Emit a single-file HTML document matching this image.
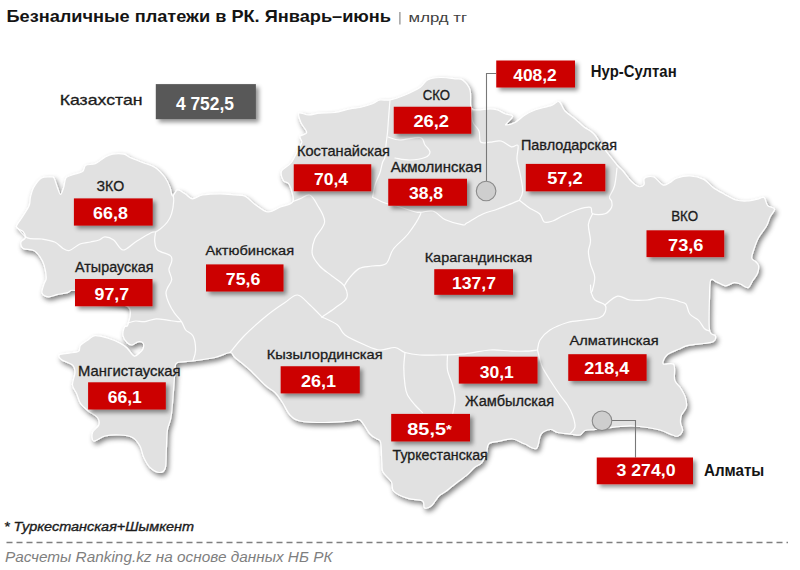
<!DOCTYPE html><html><head><meta charset="utf-8"><style>html,body{margin:0;padding:0;background:#fff;}svg{display:block;}text{font-family:"Liberation Sans",sans-serif;}</style></head><body>
<svg width="800" height="570" viewBox="0 0 800 570">
<defs><filter id="ms" x="-5%" y="-5%" width="110%" height="115%"><feGaussianBlur in="SourceAlpha" stdDeviation="2.6"/><feOffset dx="2" dy="3" result="b"/><feFlood flood-color="#000" flood-opacity="0.5"/><feComposite in2="b" operator="in"/><feMerge><feMergeNode/><feMergeNode in="SourceGraphic"/></feMerge></filter><filter id="bs" x="-20%" y="-30%" width="140%" height="170%"><feGaussianBlur in="SourceAlpha" stdDeviation="2.3"/><feOffset dx="2.5" dy="3.2" result="b"/><feFlood flood-color="#000" flood-opacity="0.42"/><feComposite in2="b" operator="in"/><feMerge><feMergeNode/><feMergeNode in="SourceGraphic"/></feMerge></filter><filter id="blur1"><feGaussianBlur stdDeviation="1"/></filter></defs>
<path d="M16.5,227.0 C16.1,224.9 18.9,222.5 21.0,219.0 C23.1,215.5 27.4,209.7 29.0,206.0 C30.6,202.3 29.7,200.1 30.5,197.0 C31.3,193.9 31.9,190.6 33.7,187.4 C35.6,184.2 38.7,179.7 41.6,178.0 C44.5,176.3 48.9,177.0 51.0,177.0 C53.1,177.0 52.9,176.3 54.0,178.0 C55.1,179.7 56.3,184.7 57.4,187.4 C58.5,190.2 59.5,194.5 60.5,194.5 C61.5,194.5 62.8,190.2 63.7,187.4 C64.6,184.7 64.5,180.1 66.0,178.0 C67.5,175.9 70.2,175.8 73.0,174.7 C75.8,173.6 80.5,173.2 82.6,171.6 C84.7,170.0 83.7,166.6 85.8,165.3 C87.9,164.0 92.1,165.0 95.3,163.7 C98.5,162.4 101.8,159.0 104.7,157.4 C107.6,155.8 109.4,154.7 112.6,154.2 C115.8,153.7 120.8,153.6 123.7,154.2 C126.6,154.8 126.9,156.1 130.0,157.5 C133.1,158.9 138.3,160.8 142.5,162.5 C146.7,164.2 151.2,165.0 155.0,167.5 C158.8,170.0 162.5,174.2 165.0,177.5 C167.5,180.8 168.8,184.4 170.0,187.5 C171.2,190.6 171.2,195.6 172.5,196.0 C173.8,196.4 175.4,190.4 177.5,190.0 C179.6,189.6 182.5,192.3 185.0,193.8 C187.5,195.2 189.6,198.5 192.5,198.8 C195.4,199.0 197.9,195.8 202.5,195.0 C207.1,194.2 214.6,193.8 220.0,193.8 C225.4,193.8 230.8,194.6 235.0,195.0 C239.2,195.4 241.6,194.6 245.0,196.2 C248.4,197.9 251.6,202.1 255.4,204.7 C259.2,207.3 263.8,211.6 268.0,212.0 C272.2,212.4 276.3,208.8 280.5,207.0 C284.7,205.2 291.5,205.2 293.0,201.5 C294.5,197.8 290.9,188.1 289.3,184.6 C287.7,181.1 284.8,183.0 283.5,180.7 C282.2,178.4 280.4,173.9 281.6,171.0 C282.9,168.1 288.1,166.8 291.0,163.0 C293.9,159.2 297.2,151.5 299.0,148.0 C300.8,144.5 301.7,143.9 301.9,142.0 C302.1,140.1 299.2,137.9 300.0,136.3 C300.8,134.7 306.5,134.8 306.7,132.5 C306.9,130.2 302.3,126.0 301.0,122.8 C299.7,119.6 297.7,114.5 299.0,113.2 C300.3,111.9 305.1,115.0 308.6,115.0 C312.1,115.0 315.6,113.6 320.0,113.2 C324.4,112.8 330.0,113.2 335.0,112.5 C340.0,111.8 345.8,109.6 350.0,108.8 C354.2,107.9 356.2,108.3 360.0,107.5 C363.8,106.7 369.2,105.0 372.5,103.8 C375.8,102.5 377.1,100.6 380.0,100.0 C382.9,99.4 385.8,100.8 390.0,100.0 C394.2,99.2 400.0,97.1 405.0,95.0 C410.0,92.9 416.2,90.0 420.0,87.5 C423.8,85.0 424.2,81.7 427.5,80.0 C430.8,78.3 435.4,77.7 440.0,77.5 C444.6,77.3 451.2,78.3 455.0,78.8 C458.8,79.2 460.0,78.1 462.5,80.0 C465.0,81.9 468.6,85.4 470.0,90.0 C471.4,94.6 469.8,104.2 471.0,107.5 C472.2,110.8 474.3,109.8 477.5,110.0 C480.7,110.2 486.7,108.8 490.0,108.8 C493.3,108.8 495.0,109.2 497.5,110.0 C500.0,110.8 502.5,112.7 505.0,113.8 C507.5,114.8 512.1,114.8 512.5,116.2 C512.9,117.7 508.6,121.0 507.5,122.5 C506.4,124.0 504.8,125.0 506.0,125.0 C507.2,125.0 511.8,124.2 515.0,122.5 C518.2,120.8 521.7,117.1 525.0,115.0 C528.3,112.9 530.6,111.6 535.0,110.0 C539.4,108.4 547.6,106.8 551.6,105.4 C555.6,104.0 556.8,100.7 559.0,101.6 C561.2,102.5 562.3,108.1 565.0,111.0 C567.7,113.9 571.8,116.3 575.0,119.0 C578.2,121.7 580.8,124.5 584.0,127.0 C587.2,129.5 591.0,130.8 594.0,134.0 C597.0,137.2 599.4,142.4 602.0,146.0 C604.6,149.6 607.0,152.4 609.5,155.6 C612.0,158.8 614.8,162.4 617.0,165.0 C619.2,167.6 620.7,168.3 623.0,171.0 C625.3,173.7 628.4,178.4 631.0,181.0 C633.6,183.6 636.3,185.9 638.5,186.5 C640.7,187.1 643.0,186.0 644.0,184.6 C645.0,183.2 643.0,179.5 644.6,178.2 C646.2,176.9 650.7,175.9 653.7,177.0 C656.7,178.1 660.1,184.0 662.8,185.0 C665.4,186.0 667.3,183.9 669.6,182.8 C671.9,181.7 673.1,179.3 676.5,178.2 C679.9,177.1 685.5,175.8 690.0,176.0 C694.5,176.2 700.0,177.5 703.8,179.4 C707.6,181.3 709.6,184.9 713.0,187.4 C716.4,189.9 720.6,192.1 724.4,194.2 C728.2,196.3 732.0,198.9 735.8,200.0 C739.6,201.1 743.2,201.2 747.0,201.0 C750.8,200.8 755.8,199.4 758.6,198.8 C761.4,198.2 762.5,196.5 764.0,197.6 C765.5,198.7 766.0,203.7 767.7,205.6 C769.5,207.5 774.1,207.1 774.5,209.0 C774.9,210.9 771.3,214.2 770.0,217.0 C768.7,219.8 768.4,222.6 766.5,226.0 C764.6,229.4 760.7,233.7 758.6,237.5 C756.5,241.3 755.1,245.6 754.0,249.0 C752.9,252.4 751.4,255.8 751.7,258.0 C752.0,260.2 754.9,260.7 756.0,262.0 C757.1,263.3 758.4,264.1 758.6,266.0 C758.8,267.9 758.4,271.0 757.4,273.5 C756.4,276.0 754.0,278.6 752.5,281.0 C751.0,283.4 750.2,287.1 748.2,287.6 C746.2,288.1 742.6,284.8 740.2,284.0 C737.8,283.2 736.5,282.4 734.0,282.7 C731.5,283.0 728.4,285.9 725.5,285.8 C722.6,285.7 719.4,283.0 716.9,282.1 C714.4,281.2 711.9,277.8 710.7,280.3 C709.5,282.8 709.7,288.7 709.5,297.0 C709.3,305.3 708.5,323.5 709.5,330.0 C710.5,336.5 714.6,333.9 715.3,335.8 C715.9,337.7 715.3,340.3 713.4,341.6 C711.5,342.9 707.9,342.9 703.7,343.5 C699.5,344.1 692.5,344.4 688.3,345.4 C684.1,346.4 682.1,347.7 678.6,349.3 C675.1,350.9 669.6,352.6 667.0,355.0 C664.4,357.4 662.1,362.2 663.2,363.8 C664.3,365.4 671.9,362.0 673.8,364.7 C675.7,367.4 673.6,376.3 674.7,380.2 C675.8,384.1 678.7,385.1 680.5,388.0 C682.3,390.9 684.4,394.4 685.4,397.6 C686.4,400.8 686.9,404.3 686.3,407.2 C685.6,410.1 682.5,412.4 681.5,415.0 C680.5,417.6 680.3,420.1 680.5,422.7 C680.7,425.3 682.9,428.2 682.5,430.4 C682.1,432.6 679.7,435.2 678.0,436.0 C676.3,436.8 675.5,436.0 672.5,435.0 C669.5,434.0 664.2,431.2 660.0,430.0 C655.8,428.8 652.1,428.2 647.5,427.5 C642.9,426.8 637.1,426.2 632.5,426.0 C627.9,425.8 624.2,426.2 620.0,426.5 C615.8,426.8 611.7,427.5 607.5,428.0 C603.3,428.5 598.8,429.1 595.0,429.5 C591.2,429.9 587.5,429.6 585.0,430.5 C582.5,431.4 582.5,434.4 580.0,435.0 C577.5,435.6 573.8,434.4 570.0,434.0 C566.2,433.6 560.8,433.2 557.5,432.5 C554.2,431.8 553.2,429.2 550.5,429.5 C547.8,429.8 543.4,431.1 541.0,434.3 C538.6,437.5 539.1,446.9 536.3,448.5 C533.5,450.1 528.4,445.4 524.4,443.8 C520.4,442.2 516.9,439.4 512.5,439.0 C508.1,438.6 502.2,440.6 498.3,441.4 C494.4,442.2 490.8,441.8 488.8,443.8 C486.8,445.8 487.6,450.1 486.4,453.3 C485.2,456.5 483.6,460.4 481.6,462.8 C479.6,465.2 476.9,465.5 474.5,467.5 C472.1,469.5 470.2,472.2 467.4,474.6 C464.6,477.0 461.5,479.0 457.9,481.8 C454.3,484.6 449.2,488.9 446.0,491.3 C442.8,493.7 441.3,493.6 438.9,496.0 C436.5,498.4 434.2,503.5 431.8,505.5 C429.4,507.5 426.2,508.7 424.6,507.9 C423.0,507.1 425.1,502.4 422.3,500.8 C419.5,499.2 412.8,500.0 408.0,498.4 C403.2,496.8 396.6,494.1 393.8,491.3 C391.0,488.5 393.2,485.0 391.4,481.8 C389.6,478.6 384.6,475.2 383.0,472.0 C381.4,468.8 382.3,467.7 381.9,462.8 C381.5,457.9 381.5,446.6 380.7,442.6 C379.9,438.6 378.8,440.4 377.0,439.0 C375.2,437.6 372.8,437.2 370.0,434.0 C367.2,430.8 363.3,422.2 360.0,420.0 C356.7,417.8 355.8,420.6 350.0,421.0 C344.2,421.4 333.3,422.5 325.0,422.5 C316.7,422.5 305.8,422.2 300.0,421.0 C294.2,419.8 292.9,418.1 290.0,415.0 C287.1,411.9 285.0,406.2 282.5,402.5 C280.0,398.8 277.9,395.4 275.0,392.5 C272.1,389.6 269.2,388.8 265.0,385.0 C260.8,381.2 255.0,374.6 250.0,370.0 C245.0,365.4 238.3,360.4 235.0,357.5 C231.7,354.6 233.3,352.5 230.0,352.5 C226.7,352.5 221.2,356.1 215.0,357.5 C208.8,358.9 198.8,360.2 192.5,361.0 C186.2,361.8 180.4,361.4 177.5,362.5 C174.6,363.6 175.5,365.6 175.0,367.5 C174.5,369.4 175.3,366.1 174.7,374.0 C174.1,381.9 172.5,405.7 171.3,415.0 C170.1,424.3 168.2,424.2 167.4,430.0 C166.6,435.8 166.7,443.7 166.3,450.0 C166.0,456.3 166.4,464.2 165.3,468.0 C164.2,471.8 162.1,472.6 159.5,472.5 C156.9,472.4 152.6,470.0 150.0,467.5 C147.4,465.0 145.5,461.1 143.8,457.5 C142.1,453.9 141.9,449.3 140.0,446.0 C138.1,442.7 135.8,439.3 132.5,437.5 C129.2,435.7 124.6,435.2 120.0,435.0 C115.4,434.8 109.4,435.0 105.0,436.0 C100.6,437.0 95.9,441.6 93.8,441.0 C91.7,440.4 91.7,435.2 92.5,432.5 C93.3,429.8 98.0,427.5 98.8,425.0 C99.6,422.5 99.2,419.8 97.5,417.5 C95.8,415.2 91.1,413.4 88.3,411.0 C85.5,408.6 82.4,406.3 80.5,403.4 C78.6,400.5 78.0,396.8 76.7,393.7 C75.4,390.6 72.8,388.5 72.5,385.0 C72.2,381.5 75.0,375.8 75.0,372.5 C75.0,369.2 74.7,367.1 72.5,365.0 C70.3,362.9 64.2,361.7 62.0,360.0 C59.8,358.3 58.1,356.1 59.3,355.0 C60.5,353.9 65.8,353.8 69.0,353.2 C72.2,352.6 76.7,352.5 78.6,351.2 C80.5,349.9 78.9,347.3 80.5,345.4 C82.1,343.5 85.9,341.3 88.3,339.7 C90.7,338.1 91.8,335.9 95.0,335.6 C98.2,335.3 103.2,336.8 107.3,338.0 C111.4,339.2 116.3,341.3 119.6,343.0 C122.9,344.7 124.6,345.8 127.0,348.0 C129.4,350.2 132.0,355.1 134.0,356.0 C136.0,356.9 137.5,354.7 139.0,353.5 C140.5,352.3 142.3,350.8 143.0,349.0 C143.7,347.2 143.8,344.2 143.0,343.0 C142.2,341.8 139.8,341.5 138.0,341.8 C136.2,342.1 133.8,344.9 132.0,345.0 C130.2,345.1 128.5,344.1 127.0,342.5 C125.5,340.9 123.4,338.2 123.0,335.6 C122.6,333.0 123.7,328.8 124.5,327.0 C125.3,325.2 127.3,327.9 128.0,324.6 C128.7,321.3 133.2,311.1 128.5,307.0 C123.8,302.9 109.0,302.8 100.0,300.0 C91.0,297.2 80.1,291.7 74.7,290.5 C69.3,289.3 70.4,291.9 67.4,292.6 C64.4,293.3 60.0,294.0 56.8,294.7 C53.6,295.4 50.9,297.1 48.4,296.8 C45.9,296.5 42.7,295.1 42.0,293.0 C41.3,290.9 43.3,286.5 44.0,284.0 C44.7,281.5 46.3,281.0 46.3,277.9 C46.3,274.8 45.2,268.8 44.2,265.3 C43.2,261.8 41.8,259.3 40.0,256.8 C38.2,254.3 36.5,251.9 33.7,250.5 C30.9,249.1 25.3,249.8 23.2,248.4 C21.1,247.0 20.6,243.8 21.0,242.0 C21.4,240.2 24.9,239.6 25.3,237.9 C25.7,236.2 24.7,233.4 23.2,231.6 C21.7,229.8 16.9,229.1 16.5,227.0Z" fill="#e1e1e1" stroke="#ffffff" stroke-width="1.2" stroke-linejoin="round" filter="url(#ms)"/>
<g fill="none" stroke="#ffffff" stroke-width="1.2" stroke-linejoin="round" stroke-linecap="round" opacity="0.95">
<path d="M16.8,227.4 C18.6,229.2 23.2,236.0 27.4,237.9 C31.6,239.8 37.5,238.3 42.0,239.0 C46.5,239.7 51.2,240.4 54.7,242.0 C58.2,243.6 60.5,247.0 63.0,248.4 C65.5,249.8 66.7,251.2 69.5,250.5 C72.3,249.8 76.5,245.4 80.0,244.0 C83.5,242.6 87.3,242.7 90.5,242.0 C93.7,241.3 96.6,240.9 99.0,240.0 C101.4,239.1 102.5,236.8 105.0,236.8 C107.5,236.8 110.7,237.8 113.7,240.0 C116.7,242.2 119.4,249.7 123.0,250.0 C126.6,250.3 130.9,244.8 135.5,242.0 C140.1,239.2 147.2,234.7 150.6,233.0 C153.9,231.3 154.8,232.2 155.6,232.0"/>
<path d="M173.0,194.0 C173.1,195.2 173.9,197.7 173.7,201.0 C173.5,204.3 172.6,210.2 171.6,213.7 C170.6,217.2 169.2,219.6 167.4,222.0 C165.6,224.4 163.0,226.7 161.0,228.4 C159.0,230.1 156.5,231.4 155.6,232.0"/>
<path d="M155.6,232.0 C155.4,233.5 154.4,238.0 154.7,241.0 C155.0,244.0 155.0,247.6 157.6,250.0 C160.2,252.4 168.0,253.7 170.3,255.6 C172.7,257.5 171.9,258.9 171.7,261.2 C171.5,263.5 168.9,266.6 168.9,269.6 C168.9,272.7 171.9,276.4 171.7,279.5 C171.5,282.6 168.4,285.7 167.5,288.0 C166.6,290.3 165.8,290.9 166.0,293.5 C166.2,296.1 167.5,300.0 168.9,303.3 C170.3,306.6 172.4,310.1 174.5,313.2 C176.6,316.2 179.6,318.8 181.5,321.6 C183.4,324.4 183.8,327.6 185.7,330.0 C187.6,332.4 191.3,332.7 193.0,336.0 C194.7,339.3 195.6,345.9 195.6,350.0 C195.6,354.1 193.4,358.9 193.0,360.7"/>
<path d="M128.0,323.0 C129.2,322.7 132.7,321.2 135.5,321.0 C138.3,320.8 141.6,322.0 145.0,321.6 C148.4,321.2 152.4,319.0 156.2,318.8 C159.9,318.6 164.0,319.7 167.5,320.2 C171.0,320.7 175.0,321.4 177.3,321.6 C179.6,321.8 180.8,321.6 181.5,321.6"/>
<path d="M293.0,201.5 C294.3,201.0 297.8,199.6 300.6,198.5 C303.4,197.4 307.0,194.0 309.8,195.0 C312.6,196.0 314.7,200.2 317.2,204.7 C319.7,209.2 325.0,216.3 324.6,222.0 C324.2,227.7 316.8,233.7 314.7,239.0 C312.6,244.3 311.5,249.5 312.3,254.0 C313.1,258.5 316.4,262.3 319.7,266.0 C323.0,269.7 327.9,272.7 332.0,276.0 C336.1,279.3 341.8,282.1 344.2,285.8 C346.6,289.5 348.2,294.3 346.7,298.0 C345.2,301.7 339.1,304.8 335.0,308.0 C330.9,311.2 324.2,315.5 322.0,317.0"/>
<path d="M230.0,352.5 C232.5,349.6 238.8,341.2 245.0,335.0 C251.2,328.8 260.8,320.4 267.5,315.0 C274.2,309.6 280.0,305.8 285.0,302.5 C290.0,299.2 293.3,294.6 297.5,295.0 C301.7,295.4 305.9,301.3 310.0,305.0 C314.1,308.7 320.0,315.0 322.0,317.0"/>
<path d="M322.0,317.0 C324.6,318.3 333.7,322.0 337.5,325.0 C341.3,328.0 340.4,331.7 345.0,335.0 C349.6,338.3 359.2,342.5 365.0,345.0 C370.8,347.5 375.0,349.6 380.0,350.0 C385.0,350.4 390.8,347.1 395.0,347.5 C399.2,347.9 400.8,351.2 405.0,352.5 C409.2,353.8 414.2,354.6 420.0,355.0 C425.8,355.4 432.5,355.2 440.0,355.0 C447.5,354.8 456.7,354.6 465.0,353.8 C473.3,352.9 482.5,350.5 490.0,350.0 C497.5,349.5 504.2,350.8 510.0,351.0 C515.8,351.2 520.4,351.4 525.0,351.2 C529.6,351.1 535.4,350.2 537.5,350.0"/>
<path d="M405.0,352.5 C404.8,355.0 403.8,362.1 403.8,367.5 C403.8,372.9 404.4,380.4 405.0,385.0 C405.6,389.6 405.8,391.7 407.5,395.0 C409.2,398.3 412.5,402.1 415.0,405.0 C417.5,407.9 421.2,411.2 422.5,412.5"/>
<path d="M447.5,355.0 C447.5,357.5 446.7,365.0 447.5,370.0 C448.3,375.0 451.2,380.0 452.5,385.0 C453.8,390.0 455.0,395.0 455.0,400.0 C455.0,405.0 452.9,412.5 452.5,415.0"/>
<path d="M537.5,350.0 C537.9,351.7 539.2,357.1 540.0,360.0 C540.8,362.9 540.8,364.2 542.5,367.5 C544.2,370.8 547.1,375.4 550.0,380.0 C552.9,384.6 557.1,390.8 560.0,395.0 C562.9,399.2 565.4,401.7 567.5,405.0 C569.6,408.3 571.2,411.3 572.5,415.0 C573.8,418.7 575.4,423.8 575.0,427.0 C574.6,430.2 570.8,432.8 570.0,434.0"/>
<path d="M537.5,350.0 C537.9,348.3 537.9,343.3 540.0,340.0 C542.1,336.7 545.4,332.9 550.0,330.0 C554.6,327.1 561.7,324.2 567.5,322.5 C573.3,320.8 579.6,320.8 585.0,320.0 C590.4,319.2 596.7,318.8 600.0,317.5 C603.3,316.2 604.2,314.6 605.0,312.5 C605.8,310.4 606.7,307.1 605.0,305.0 C603.3,302.9 597.3,302.1 595.0,300.0 C592.7,297.9 592.0,295.0 591.2,292.5 C590.5,290.0 590.6,286.2 590.5,285.0"/>
<path d="M592.6,213.7 C591.9,215.4 588.8,219.6 588.4,224.2 C588.0,228.8 590.5,236.4 590.5,241.0 C590.5,245.6 588.4,247.7 588.4,251.6 C588.4,255.5 589.5,260.0 590.5,264.2 C591.5,268.4 594.4,272.6 594.7,276.8 C595.1,281.0 593.2,286.9 592.6,289.5 C592.0,292.1 591.5,292.0 591.2,292.5"/>
<path d="M605.0,305.0 C607.1,303.5 613.3,297.1 617.5,296.2 C621.7,295.4 625.0,299.4 630.0,300.0 C635.0,300.6 642.5,300.4 647.5,300.0 C652.5,299.6 655.4,297.5 660.0,297.5 C664.6,297.5 671.7,299.3 675.0,300.0 C678.3,300.7 678.2,301.1 680.0,301.8 C681.8,302.5 684.4,302.2 686.0,304.2 C687.6,306.2 687.7,311.3 689.8,314.0 C691.9,316.7 695.9,317.7 698.4,320.2 C700.9,322.7 702.8,327.0 704.6,328.8 C706.5,330.6 708.7,330.6 709.5,331.0"/>
<path d="M372.6,197.2 C374.7,198.2 380.4,201.4 385.0,203.0 C389.6,204.6 394.5,205.4 400.0,207.0 C405.5,208.6 412.3,211.6 417.8,212.3 C423.3,213.0 428.2,209.8 432.8,211.0 C437.4,212.2 440.4,217.5 445.4,219.8 C450.4,222.1 459.4,224.3 463.0,224.8 C466.6,225.3 463.5,224.8 466.8,223.0 C470.1,221.2 477.9,216.2 482.8,214.0 C487.8,211.8 492.3,211.0 496.5,209.5 C500.7,208.0 504.2,206.5 508.0,205.0 C511.8,203.5 517.4,201.1 519.3,200.3"/>
<path d="M519.3,200.3 C520.8,201.5 525.0,204.9 528.4,207.2 C531.8,209.5 537.2,211.5 539.8,214.0 C542.4,216.5 542.1,220.8 544.2,222.0 C546.3,223.2 549.5,222.0 552.6,221.0 C555.7,220.0 558.8,217.7 563.0,215.8 C567.2,213.9 573.4,210.9 578.0,209.5 C582.6,208.1 588.1,206.7 590.5,207.4 C592.9,208.1 590.2,212.6 592.6,213.7 C595.0,214.8 601.8,214.8 605.0,213.7 C608.2,212.6 610.5,209.5 611.6,207.4 C612.7,205.3 612.0,202.8 611.6,201.0 C611.2,199.2 609.0,199.3 609.5,196.8 C610.0,194.3 613.2,190.8 614.5,186.0 C615.8,181.2 616.6,171.0 617.0,168.0"/>
<path d="M417.8,212.3 C418.2,212.7 422.0,211.0 420.4,214.6 C418.8,218.2 412.5,228.3 408.0,234.0 C403.5,239.7 397.1,244.1 393.4,249.0 C389.7,253.9 389.6,260.9 386.0,263.7 C382.4,266.5 376.5,265.2 372.0,266.0 C367.5,266.8 362.8,266.5 359.0,268.6 C355.2,270.7 351.5,275.6 349.0,278.5 C346.5,281.4 345.0,284.6 344.2,285.8"/>
<path d="M519.3,200.3 C519.9,198.8 522.5,195.4 522.7,191.2 C522.9,187.0 521.4,180.6 520.4,175.3 C519.4,170.0 517.4,164.2 517.0,159.3 C516.6,154.4 519.0,147.7 518.0,145.6 C517.0,143.5 514.1,147.6 511.3,146.8 C508.5,146.0 504.6,141.8 501.0,141.0 C497.4,140.2 493.0,142.0 489.6,142.2 C486.2,142.4 482.4,143.9 480.6,142.0 C478.8,140.1 480.3,134.4 479.0,131.0 C477.7,127.6 474.0,125.8 472.7,121.6 C471.4,117.4 471.3,108.6 471.0,106.0"/>
<path d="M390.0,100.0 C389.8,102.5 389.2,109.6 388.8,115.0 C388.3,120.4 388.0,127.5 387.5,132.5 C387.0,137.5 386.4,140.9 386.0,145.0 C385.6,149.1 385.6,154.1 385.0,157.0 C384.4,159.9 383.3,159.9 382.5,162.5 C381.7,165.1 381.2,168.8 380.0,172.5 C378.8,176.2 376.2,180.9 375.0,185.0 C373.8,189.1 373.0,195.2 372.6,197.2"/>
<path d="M388.0,137.0 C390.0,137.5 394.7,139.9 400.0,140.0 C405.3,140.1 415.8,136.7 420.0,137.5 C424.2,138.3 423.3,142.6 425.0,145.0 C426.7,147.4 430.0,149.9 430.0,152.0 C430.0,154.1 428.3,156.2 425.0,157.5 C421.7,158.8 415.0,159.9 410.0,160.0 C405.0,160.1 397.5,158.3 395.0,158.0"/>
</g>
<polyline points="496,73.5 486.5,73.5 486.5,181" fill="none" stroke="#787878" stroke-width="1.1"/>
<circle cx="486.1" cy="191" r="9.8" fill="#cecece" stroke="#8a8a8a" stroke-width="1.1"/>
<polyline points="611,420.5 635.5,420.5 635.5,457.5" fill="none" stroke="#787878" stroke-width="1.1"/>
<circle cx="602" cy="420.8" r="9.8" fill="#cecece" stroke="#8a8a8a" stroke-width="1.1"/>
<rect x="155.8" y="84.1" width="100.10" height="35.10" fill="#595959" filter="url(#bs)"/>
<rect x="496.25" y="60.5" width="78.75" height="27.00" fill="#cc0000" filter="url(#bs)"/>
<rect x="393.75" y="106.75" width="77.50" height="27.00" fill="#cc0000" filter="url(#bs)"/>
<rect x="293.75" y="164.25" width="77.50" height="27.00" fill="#cc0000" filter="url(#bs)"/>
<rect x="388.25" y="178.75" width="78.75" height="27.00" fill="#cc0000" filter="url(#bs)"/>
<rect x="525.8" y="163.9" width="79.50" height="27.40" fill="#cc0000" filter="url(#bs)"/>
<rect x="73.9" y="198.4" width="78.80" height="27.20" fill="#cc0000" filter="url(#bs)"/>
<rect x="646.5" y="230.3" width="77.70" height="26.80" fill="#cc0000" filter="url(#bs)"/>
<rect x="206" y="264.4" width="77.50" height="27.10" fill="#cc0000" filter="url(#bs)"/>
<rect x="434.25" y="269.2" width="78.75" height="25.60" fill="#cc0000" filter="url(#bs)"/>
<rect x="75" y="279" width="77.50" height="27.25" fill="#cc0000" filter="url(#bs)"/>
<rect x="458.8" y="356.7" width="78.70" height="26.90" fill="#cc0000" filter="url(#bs)"/>
<rect x="568.25" y="354.2" width="78.35" height="26.70" fill="#cc0000" filter="url(#bs)"/>
<rect x="280.65" y="366.25" width="79.10" height="27.15" fill="#cc0000" filter="url(#bs)"/>
<rect x="88.1" y="382.3" width="77.70" height="27.20" fill="#cc0000" filter="url(#bs)"/>
<rect x="391.2" y="413.9" width="78.80" height="27.55" fill="#cc0000" filter="url(#bs)"/>
<rect x="596.75" y="457.5" width="96.25" height="26.75" fill="#cc0000" filter="url(#bs)"/>
<rect x="399.3" y="12" width="1.2" height="12.5" fill="#8a8a8a"/>
<line x1="6.5" y1="542.5" x2="788" y2="542.5" stroke="#7f7f7f" stroke-width="1.4" stroke-dasharray="6,4"/>
<text x="175.89" y="109.91" font-size="17.60" font-weight="bold" fill="#ffffff" textLength="58.02" lengthAdjust="spacingAndGlyphs">4 752,5</text>
<text x="513.23" y="80.87" font-size="16.20" font-weight="bold" fill="#ffffff" textLength="43.54" lengthAdjust="spacingAndGlyphs">408,2</text>
<text x="413.41" y="127.12" font-size="16.20" font-weight="bold" fill="#ffffff" textLength="35.63" lengthAdjust="spacingAndGlyphs">26,2</text>
<text x="313.97" y="184.62" font-size="16.20" font-weight="bold" fill="#ffffff" textLength="34.03" lengthAdjust="spacingAndGlyphs">70,4</text>
<text x="408.97" y="199.12" font-size="16.20" font-weight="bold" fill="#ffffff" textLength="34.10" lengthAdjust="spacingAndGlyphs">38,8</text>
<text x="547.21" y="184.47" font-size="16.20" font-weight="bold" fill="#ffffff" textLength="35.59" lengthAdjust="spacingAndGlyphs">57,2</text>
<text x="93.14" y="218.87" font-size="16.20" font-weight="bold" fill="#ffffff" textLength="34.79" lengthAdjust="spacingAndGlyphs">66,8</text>
<text x="668.03" y="250.57" font-size="16.20" font-weight="bold" fill="#ffffff" textLength="35.45" lengthAdjust="spacingAndGlyphs">73,6</text>
<text x="225.83" y="284.82" font-size="16.20" font-weight="bold" fill="#ffffff" textLength="34.49" lengthAdjust="spacingAndGlyphs">75,6</text>
<text x="451.95" y="288.62" font-size="16.20" font-weight="bold" fill="#ffffff" textLength="44.10" lengthAdjust="spacingAndGlyphs">137,7</text>
<text x="94.54" y="299.50" font-size="16.20" font-weight="bold" fill="#ffffff" textLength="34.64" lengthAdjust="spacingAndGlyphs">97,7</text>
<text x="479.71" y="377.52" font-size="16.20" font-weight="bold" fill="#ffffff" textLength="34.12" lengthAdjust="spacingAndGlyphs">30,1</text>
<text x="584.25" y="374.42" font-size="16.20" font-weight="bold" fill="#ffffff" textLength="45.09" lengthAdjust="spacingAndGlyphs">218,4</text>
<text x="300.97" y="386.70" font-size="16.20" font-weight="bold" fill="#ffffff" textLength="35.15" lengthAdjust="spacingAndGlyphs">26,1</text>
<text x="107.68" y="402.77" font-size="16.20" font-weight="bold" fill="#ffffff" textLength="34.06" lengthAdjust="spacingAndGlyphs">66,1</text>
<text x="407.35" y="434.55" font-size="16.20" font-weight="bold" fill="#ffffff" textLength="44.38" lengthAdjust="spacingAndGlyphs">85,5<tspan font-size="75%" dy="-1">*</tspan></text>
<text x="616.44" y="476.35" font-size="16.20" font-weight="bold" fill="#ffffff" textLength="59.13" lengthAdjust="spacingAndGlyphs">3 274,0</text>
<text x="59.65" y="105.49" font-size="14.81" font-weight="normal" fill="#1c1c1c" stroke="#1c1c1c" stroke-width="0.3" textLength="82.91" lengthAdjust="spacingAndGlyphs">Казахстан</text>
<text x="590.87" y="77.39" font-size="16.74" font-weight="bold" fill="#141414" textLength="85.77" lengthAdjust="spacingAndGlyphs">Нур-Султан</text>
<text x="422.71" y="100.25" font-size="14.94" font-weight="normal" fill="#1c1c1c" stroke="#1c1c1c" stroke-width="0.3" textLength="27.33" lengthAdjust="spacingAndGlyphs">СКО</text>
<text x="296.98" y="156.45" font-size="14.94" font-weight="normal" fill="#1c1c1c" stroke="#1c1c1c" stroke-width="0.3" textLength="93.04" lengthAdjust="spacingAndGlyphs">Костанайская</text>
<text x="390.74" y="172.43" font-size="14.20" font-weight="normal" fill="#1c1c1c" stroke="#1c1c1c" stroke-width="0.3" textLength="91.02" lengthAdjust="spacingAndGlyphs">Акмолинская</text>
<text x="520.98" y="149.84" font-size="14.35" font-weight="normal" fill="#1c1c1c" stroke="#1c1c1c" stroke-width="0.3" textLength="96.04" lengthAdjust="spacingAndGlyphs">Павлодарская</text>
<text x="96.52" y="191.06" font-size="15.24" font-weight="normal" fill="#1c1c1c" stroke="#1c1c1c" stroke-width="0.3" textLength="27.62" lengthAdjust="spacingAndGlyphs">ЗКО</text>
<text x="671.15" y="220.94" font-size="14.50" font-weight="normal" fill="#1c1c1c" stroke="#1c1c1c" stroke-width="0.3" textLength="26.95" lengthAdjust="spacingAndGlyphs">ВКО</text>
<text x="205.59" y="254.77" font-size="13.67" font-weight="normal" fill="#1c1c1c" stroke="#1c1c1c" stroke-width="0.3" textLength="88.53" lengthAdjust="spacingAndGlyphs">Актюбинская</text>
<text x="424.73" y="261.92" font-size="13.45" font-weight="normal" fill="#1c1c1c" stroke="#1c1c1c" stroke-width="0.3" textLength="107.53" lengthAdjust="spacingAndGlyphs">Карагандинская</text>
<text x="75.00" y="272.28" font-size="13.97" font-weight="normal" fill="#1c1c1c" stroke="#1c1c1c" stroke-width="0.3" textLength="78.52" lengthAdjust="spacingAndGlyphs">Атырауская</text>
<text x="266.83" y="358.91" font-size="13.15" font-weight="normal" fill="#1c1c1c" stroke="#1c1c1c" stroke-width="0.3" textLength="115.80" lengthAdjust="spacingAndGlyphs">Кызылординская</text>
<text x="569.59" y="344.52" font-size="13.60" font-weight="normal" fill="#1c1c1c" stroke="#1c1c1c" stroke-width="0.3" textLength="89.03" lengthAdjust="spacingAndGlyphs">Алматинская</text>
<text x="465.09" y="405.84" font-size="14.35" font-weight="normal" fill="#1c1c1c" stroke="#1c1c1c" stroke-width="0.3" textLength="89.03" lengthAdjust="spacingAndGlyphs">Жамбылская</text>
<text x="78.07" y="376.02" font-size="13.75" font-weight="normal" fill="#1c1c1c" stroke="#1c1c1c" stroke-width="0.3" textLength="102.44" lengthAdjust="spacingAndGlyphs">Мангистауская</text>
<text x="392.58" y="459.64" font-size="14.35" font-weight="normal" fill="#1c1c1c" stroke="#1c1c1c" stroke-width="0.3" textLength="95.23" lengthAdjust="spacingAndGlyphs">Туркестанская</text>
<text x="703.97" y="476.44" font-size="16.81" font-weight="bold" fill="#141414" textLength="60.31" lengthAdjust="spacingAndGlyphs">Алматы</text>
<text x="6.49" y="21.70" font-size="16.06" font-weight="bold" fill="#141414" textLength="384.52" lengthAdjust="spacingAndGlyphs">Безналичные платежи в РК. Январь–июнь</text>
<text x="408.64" y="21.50" font-size="12.23" font-weight="normal" fill="#404040" textLength="58.46" lengthAdjust="spacingAndGlyphs">млрд тг</text>
<text x="3.99" y="530.50" font-size="13.27" font-weight="normal" font-style="italic" fill="#1c1c1c" stroke="#1c1c1c" stroke-width="0.35" textLength="190.02" lengthAdjust="spacingAndGlyphs">* Туркестанская+Шымкент</text>
<text x="5.00" y="562.20" font-size="15.36" font-weight="normal" font-style="italic" fill="#7f7f7f" textLength="327.51" lengthAdjust="spacingAndGlyphs">Расчеты Ranking.kz на основе данных НБ РК</text>
</svg></body></html>
